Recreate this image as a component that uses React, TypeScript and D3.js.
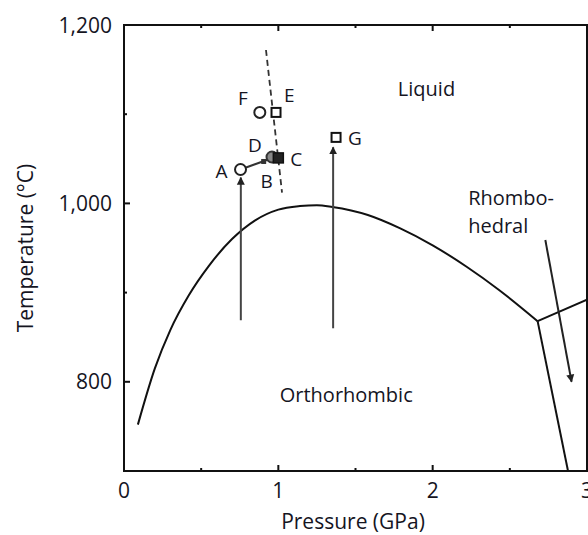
import React from "react";
import * as d3 from "d3";

const W = 588;
const H = 535;
const M = { left: 124, right: 587, top: 25, bottom: 471 };

const xTicksMajor = [0, 1, 2, 3];
const xTicksMinor = [0.5, 1.5, 2.5];
const yTicksMajor = [800, 1000, 1200];
const yTicksMinor = [900, 1100];

// melting curve (orthorhombic / liquid)
const meltP = [0.09, 0.2, 0.3, 0.42, 0.55, 0.7, 0.85, 1.0, 1.14, 1.25, 1.35, 1.58, 1.79, 2.0, 2.22, 2.43, 2.68];
const meltT = [752, 815, 858, 897, 930, 960, 981, 993, 997, 998, 996, 987, 972, 953, 929, 903, 868];

// rhombohedral boundaries from triple point
const upperP = [2.68, 3.0];
const upperT = [868, 892];
const lowerP = [2.68, 2.877];
const lowerT = [868, 700];

// dashed line
const dashP = [0.92, 1.024];
const dashT = [1172, 1012];

// arrows [p0, t0, p1, t1]
const arrowA = [0.757, 869, 0.757, 1029];
const arrowG = [1.355, 860, 1.355, 1063];
const arrowR = [2.73, 959, 2.9, 800];

// connection A -> B
const abP = [0.755, 0.93];
const abT = [1038, 1049];

// points
const ptNames = ["A", "B", "D", "C", "F", "E", "G"];
const ptP = [0.755, 0.905, 0.959, 1.0, 0.88, 0.985, 1.374];
const ptT = [1038, 1047, 1052, 1051, 1102, 1102, 1074];
const ptShape = ["circle", "square-small", "circle-gray", "square-filled", "circle", "square", "square"];
const labelDx = [-19, 3, -17, 12, -17, 8, 12];
const labelDy = [2, 20, -12, 1, -14, -17, 1];
const labelAnchor = ["middle", "middle", "middle", "start", "middle", "start", "start"];

const regionNames = ["Liquid", "Rhombo-", "hedral", "Orthorhombic"];
const regionP = [1.96, 2.23, 2.23, 1.44];
const regionT = [1120, 998, 967, 777];
const regionAnchor = ["middle", "start", "start", "middle"];

const FONT = "'Open Sans', 'Liberation Sans', Arial, sans-serif";
const TXT = "#15151f";

export default function App() {
  const x = d3.scaleLinear().domain([0, 3]).range([M.left, M.right]);
  const y = d3.scaleLinear().domain([700, 1200]).range([M.bottom, M.top]);
  const line = d3
    .line<[number, number]>()
    .x((d) => x(d[0]))
    .y((d) => y(d[1]));
  const curve = d3
    .line<[number, number]>()
    .x((d) => x(d[0]))
    .y((d) => y(d[1]))
    .curve(d3.curveMonotoneX);
  const zip = (a: number[], b: number[]) => a.map((v, i) => [v, b[i]] as [number, number]);
  const yFmt = d3.format(",");

  const arrows = [arrowA, arrowG, arrowR];

  return (
    <div style={{ position: "fixed", left: 0, top: 0 }}>
      <svg width={W} height={H} style={{ display: "block", background: "#fff" }}>
        <defs>
          <marker id="ah" viewBox="0 0 10 10" refX="9" refY="5" markerWidth="4" markerHeight="5" orient="auto" markerUnits="strokeWidth">
            <path d="M0,0 L10,5 L0,10 z" fill="#222" />
          </marker>
        </defs>
        <clipPath id="clip">
          <rect x={M.left} y={M.top} width={M.right - M.left} height={M.bottom - M.top} />
        </clipPath>

        {/* frame */}
        <rect x={M.left} y={M.top} width={M.right - M.left} height={M.bottom - M.top} fill="none" stroke="#111" strokeWidth={2} />

        {/* ticks */}
        {xTicksMajor.map((t) => (
          <g key={"xm" + t}>
            <line x1={x(t)} x2={x(t)} y1={M.bottom} y2={M.bottom - 6} stroke="#111" strokeWidth={2} />
            <line x1={x(t)} x2={x(t)} y1={M.top} y2={M.top + 6} stroke="#111" strokeWidth={2} />
            <text x={x(t)} y={498} textAnchor="middle" fontFamily={FONT} fontSize={21} fill={TXT}>
              {t}
            </text>
          </g>
        ))}
        {xTicksMinor.map((t) => (
          <g key={"xn" + t}>
            <line x1={x(t)} x2={x(t)} y1={M.bottom} y2={M.bottom - 3} stroke="#111" strokeWidth={2} />
            <line x1={x(t)} x2={x(t)} y1={M.top} y2={M.top + 3} stroke="#111" strokeWidth={2} />
          </g>
        ))}
        {yTicksMajor.map((t) => (
          <g key={"ym" + t}>
            <line x1={M.left} x2={M.left + 6} y1={y(t)} y2={y(t)} stroke="#111" strokeWidth={2} />
            <text x={112} y={y(t)} dy="0.36em" textAnchor="end" fontFamily={FONT} fontSize={21} fill={TXT}>
              {yFmt(t)}
            </text>
          </g>
        ))}
        {yTicksMinor.map((t) => (
          <line key={"yn" + t} x1={M.left} x2={M.left + 3} y1={y(t)} y2={y(t)} stroke="#111" strokeWidth={2} />
        ))}

        {/* axis titles */}
        <text x={353} y={529} textAnchor="middle" fontFamily={FONT} fontSize={21} fill={TXT}>
          Pressure (GPa)
        </text>
        <text transform="translate(33,248) rotate(-90)" textAnchor="middle" fontFamily={FONT} fontSize={21} fill={TXT}>
          Temperature (°C)
        </text>

        <g clipPath="url(#clip)">
          <path d={curve(zip(meltP, meltT)) || ""} fill="none" stroke="#111" strokeWidth={2} />
          <path d={line(zip(upperP, upperT)) || ""} fill="none" stroke="#111" strokeWidth={2} />
          <path d={line(zip(lowerP, lowerT)) || ""} fill="none" stroke="#111" strokeWidth={2} />
          <path d={line(zip(dashP, dashT)) || ""} fill="none" stroke="#333" strokeWidth={1.8} strokeDasharray="6,4" />
          {arrows.map((a, i) => (
            <line key={"ar" + i} x1={x(a[0])} y1={y(a[1])} x2={x(a[2])} y2={y(a[3])} stroke={i === 2 ? "#222" : "#444"} strokeWidth={2} markerEnd="url(#ah)" />
          ))}
          <path d={line(zip(abP, abT)) || ""} fill="none" stroke="#333" strokeWidth={2} />
        </g>

        {/* points */}
        {ptNames.map((n, i) => {
          const cx = x(ptP[i]);
          const cy = y(ptT[i]);
          const s = ptShape[i];
          let mark;
          if (s === "circle") mark = <circle cx={cx} cy={cy} r={5.5} fill="#fff" stroke="#222" strokeWidth={2} />;
          else if (s === "circle-gray") mark = <circle cx={cx} cy={cy} r={5.5} fill="#888" stroke="#333" strokeWidth={2} />;
          else if (s === "square-small") mark = <rect x={cx - 2.5} y={cy - 2.5} width={5} height={5} fill="#333" />;
          else if (s === "square-filled") mark = <rect x={cx - 5} y={cy - 5} width={10} height={10} fill="#222" stroke="#111" strokeWidth={1.5} />;
          else mark = <rect x={cx - 4.5} y={cy - 4.5} width={9} height={9} fill="#fff" stroke="#111" strokeWidth={2} />;
          return (
            <g key={"pt" + n}>
              {mark}
              <text x={cx + labelDx[i]} y={cy + labelDy[i]} dy="0.36em" textAnchor={labelAnchor[i]} fontFamily={FONT} fontSize={19} fill={TXT}>
                {n}
              </text>
            </g>
          );
        })}

        {/* region labels */}
        {regionNames.map((n, i) => (
          <text key={"rg" + i} x={x(regionP[i])} y={y(regionT[i])} textAnchor={regionAnchor[i]} fontFamily={FONT} fontSize={20} fill={TXT}>
            {n}
          </text>
        ))}
      </svg>
    </div>
  );
}
